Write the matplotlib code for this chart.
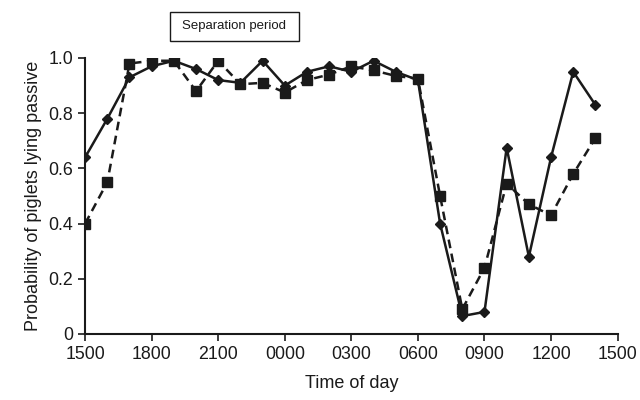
"""Probability of piglets lying passive over the day."""

import matplotlib

matplotlib.use("Agg")
import matplotlib.pyplot as plt
from matplotlib.patches import Rectangle

plt.rcParams["font.family"] = ["Liberation Sans", "DejaVu Sans"]

# hours after 1500 (one point per hour, 1500 -> 1400 next day)
hours = list(range(24))
solid_vals = [0.64, 0.78, 0.93, 0.97, 0.99, 0.96, 0.92, 0.91, 0.99, 0.90,
              0.95, 0.97, 0.95, 0.99, 0.95, 0.92, 0.40, 0.065, 0.08, 0.675,
              0.28, 0.64, 0.95, 0.83]
dashed_vals = [0.40, 0.55, 0.98, 0.99, 0.99, 0.88, 0.99, 0.905, 0.91, 0.875,
               0.92, 0.94, 0.97, 0.955, 0.935, 0.925, 0.50, 0.09, 0.24, 0.545,
               0.47, 0.43, 0.58, 0.71]
xtick_pos = [0, 3, 6, 9, 12, 15, 18, 21, 24]
xtick_labels = ["1500", "1800", "2100", "0000", "0300", "0600", "0900", "1200", "1500"]
ytick_pos = [0, 0.2, 0.4, 0.6, 0.8, 1.0]
ytick_labels = ["0", "0.2", "0.4", "0.6", "0.8", "1.0"]

fig = plt.figure(figsize=(6.4, 4.0), dpi=100)
ax = fig.add_axes([0.133, 0.165, 0.832, 0.69])

ax.plot(hours, dashed_vals, color="#1a1a1a", lw=1.8, ls=(0, (3.5, 2.2)),
        marker="s", ms=6.5, mfc="#1a1a1a", mec="#1a1a1a")
ax.plot(hours, solid_vals, color="#1a1a1a", lw=1.8, ls="-",
        marker="D", ms=5.5, mfc="#1a1a1a", mec="#1a1a1a")

ax.set_xlim(0, 24)
ax.set_ylim(0, 1.0)
ax.set_xticks(xtick_pos)
ax.set_xticklabels(xtick_labels)
ax.set_yticks(ytick_pos)
ax.set_yticklabels(ytick_labels)
ax.tick_params(labelsize=12.8, length=5, width=1.2, color="#1a1a1a", labelcolor="#1a1a1a")
for side in ("top", "right"):
    ax.spines[side].set_visible(False)
for side in ("left", "bottom"):
    ax.spines[side].set_linewidth(1.5)
    ax.spines[side].set_color("#1a1a1a")

ax.set_xlabel("Time of day", fontsize=13, color="#1a1a1a", labelpad=9)
ax.set_ylabel("Probability of piglets lying passive", fontsize=13, color="#1a1a1a", labelpad=5)

# label box in figure coordinates
fig.patches.append(Rectangle((170 / 640, 1 - 41 / 400), 129 / 640, 29 / 400,
                             transform=fig.transFigure, fc="white", ec="#1a1a1a", lw=1.0))
fig.text(234.5 / 640, 1 - 26.5 / 400, "Separation period", fontsize=9.5,
         ha="center", va="center", color="#1a1a1a")

fig.savefig("out.png", dpi=100)
